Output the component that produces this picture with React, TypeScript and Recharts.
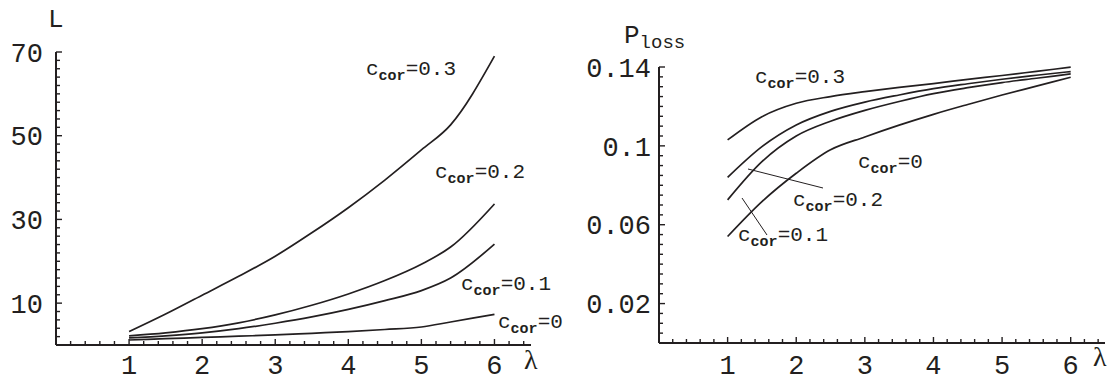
import { LineChart, Line, XAxis, YAxis } from 'recharts';

// λ grid for each panel
const lambdaL = [1, 1.5, 2, 2.5, 3, 3.5, 4, 4.5, 5, 5.4, 6];
const lambdaR = [1, 1.5, 2, 2.5, 3, 3.5, 4, 4.5, 5, 5.5, 6];

// left panel: L vs λ
const L_c03 = [3.2, 7.4, 11.9, 16.4, 21.2, 26.8, 32.8, 39.4, 46.6, 52.6, 69];
const L_c02 = [2.2, 2.9, 3.9, 5.3, 7.2, 9.5, 12.2, 15.4, 19.3, 23.4, 33.7];
const L_c01 = [1.7, 2.2, 2.9, 3.9, 5.2, 6.7, 8.5, 10.6, 13.0, 16.0, 24.1];
const L_c00 = [1.2, 1.5, 1.8, 2.1, 2.4, 2.8, 3.2, 3.7, 4.3, 5.5, 7.3];

// right panel: P_loss vs λ
const P_c03 = [0.103, 0.1148, 0.1216, 0.125, 0.1275, 0.1297, 0.1316, 0.1337, 0.1357, 0.1378, 0.1399];
const P_c02 = [0.084, 0.0996, 0.1106, 0.1175, 0.1222, 0.1258, 0.129, 0.1315, 0.1338, 0.1358, 0.1377];
const P_c01 = [0.0726, 0.092, 0.105, 0.1125, 0.118, 0.1225, 0.1265, 0.1295, 0.1321, 0.1343, 0.1365];
const P_c00 = [0.054, 0.0717, 0.0861, 0.098, 0.1045, 0.1105, 0.116, 0.121, 0.1258, 0.1303, 0.1348];

const xLabels = [1, 2, 3, 4, 5, 6];
const yLabelsL = [10, 30, 50, 70];
const yLabelsR = [0.02, 0.06, 0.1, 0.14];

// minor tick positions
const xMinor = Array.from({ length: 32 }, (_, i) => +((i + 1) * 0.2).toFixed(1));
const yMinorL = Array.from({ length: 35 }, (_, i) => (i + 1) * 2);
const yMinorR = Array.from({ length: 28 }, (_, i) => +((i + 1) * 0.005).toFixed(3));

const leftData = lambdaL.map((lam, i) => ({ lam, c03: L_c03[i], c02: L_c02[i], c01: L_c01[i], c00: L_c00[i] }));
const rightData = lambdaR.map((lam, i) => ({ lam, c03: P_c03[i], c02: P_c02[i], c01: P_c01[i], c00: P_c00[i] }));

const MONO = '"Liberation Mono", "DejaVu Sans Mono", monospace';
const INK = '#231f20';

// panel layout (shared by the charts and the tick overlay)
const LEFT = { x0: 0, w: 560, top: 52, right: 29, axisW: 56, axisH: 37, xMax: 6.5, yMax: 70 };
const RIGHT = { x0: 560, w: 554, top: 67, right: 9, axisW: 99, axisH: 39, xMax: 6.5, yMax: 0.14 };
const H = 382;

function XLabelTick(props: any) {
  const { x, y, payload, dy } = props;
  const v = payload.value;
  if (!xLabels.includes(v)) return <g />;
  return (
    <text x={x} y={y + dy} textAnchor="middle" fontFamily={MONO} fontSize={27} fill={INK}>
      {v}
    </text>
  );
}

function YLabelTick(props: any) {
  const { x, y, payload, labels, gap } = props;
  const v = payload.value;
  if (!labels.includes(v)) return <g />;
  return (
    <text x={x - gap} y={y} dy="0.36em" textAnchor="end" fontFamily={MONO} fontSize={27} fill={INK}>
      {String(v)}
    </text>
  );
}

// inward tick marks for one panel, mapped with the panel's axis domains
function TickMarks({ p, ys, yMaj }: { p: typeof LEFT; ys: number[]; yMaj: number[] }) {
  const left = p.x0 + p.axisW;
  const plotW = p.w - p.axisW - p.right;
  const bottom = H - p.axisH;
  const plotH = bottom - p.top;
  const sx = (v: number) => left + (v / p.xMax) * plotW;
  const sy = (v: number) => bottom - (v / p.yMax) * plotH;
  return (
    <g stroke={INK} strokeWidth={1.4}>
      {xMinor.map((v) => (
        <line key={`x${v}`} x1={sx(v)} x2={sx(v)} y1={bottom} y2={bottom - (xLabels.includes(v) ? 6 : 4)} />
      ))}
      {ys.map((v) => (
        <line key={`y${v}`} x1={left} x2={left + (yMaj.includes(v) ? 6 : 4)} y1={sy(v)} y2={sy(v)} />
      ))}
    </g>
  );
}

function CLabel({ x, y, value }: { x: number; y: number; value: string }) {
  return (
    <text x={x} y={y} fontFamily={MONO} fill={INK}>
      <tspan fontSize={21}>c</tspan>
      <tspan fontSize={15} fontWeight="bold" dy={5}>cor</tspan>
      <tspan fontSize={21} dy={-5}>={value}</tspan>
    </text>
  );
}

const lineProps = {
  type: 'monotone' as const,
  stroke: INK,
  strokeWidth: 1.7,
  dot: false,
  isAnimationActive: false,
};

export default function App() {
  return (
    <div style={{ position: 'absolute', left: 0, top: 0, width: 1114, height: H, background: '#fff' }}>
      <div style={{ position: 'absolute', left: LEFT.x0, top: 0 }}>
        <LineChart width={LEFT.w} height={H} data={leftData} margin={{ top: LEFT.top, right: LEFT.right, bottom: 0, left: 0 }}>
          <XAxis
            type="number"
            dataKey="lam"
            domain={[0, LEFT.xMax]}
            ticks={xMinor}
            interval={0}
            height={LEFT.axisH}
            tickSize={0}
            tickMargin={0}
            tickLine={false}
            axisLine={{ stroke: INK, strokeWidth: 2 }}
            tick={(p: any) => <XLabelTick {...p} dy={29} />}
          />
          <YAxis
            type="number"
            domain={[0, LEFT.yMax]}
            ticks={yMinorL}
            interval={0}
            width={LEFT.axisW}
            tickSize={0}
            tickMargin={0}
            tickLine={false}
            axisLine={{ stroke: INK, strokeWidth: 2 }}
            tick={(p: any) => <YLabelTick {...p} labels={yLabelsL} gap={13} />}
          />
          <Line dataKey="c03" {...lineProps} />
          <Line dataKey="c02" {...lineProps} />
          <Line dataKey="c01" {...lineProps} />
          <Line dataKey="c00" {...lineProps} />
        </LineChart>
      </div>
      <div style={{ position: 'absolute', left: RIGHT.x0, top: 0 }}>
        <LineChart width={RIGHT.w} height={H} data={rightData} margin={{ top: RIGHT.top, right: RIGHT.right, bottom: 0, left: 0 }}>
          <XAxis
            type="number"
            dataKey="lam"
            domain={[0, RIGHT.xMax]}
            ticks={xMinor}
            interval={0}
            height={RIGHT.axisH}
            tickSize={0}
            tickMargin={0}
            tickLine={false}
            axisLine={{ stroke: INK, strokeWidth: 2 }}
            tick={(p: any) => <XLabelTick {...p} dy={31} />}
          />
          <YAxis
            type="number"
            domain={[0, RIGHT.yMax]}
            ticks={yMinorR}
            interval={0}
            width={RIGHT.axisW}
            tickSize={0}
            tickMargin={0}
            tickLine={false}
            axisLine={{ stroke: INK, strokeWidth: 2 }}
            tick={(p: any) => <YLabelTick {...p} labels={yLabelsR} gap={8} />}
          />
          <Line dataKey="c03" {...lineProps} />
          <Line dataKey="c02" {...lineProps} />
          <Line dataKey="c01" {...lineProps} />
          <Line dataKey="c00" {...lineProps} />
        </LineChart>
      </div>
      <svg width={1114} height={H} style={{ position: 'absolute', left: 0, top: 0, pointerEvents: 'none' }}>
        <TickMarks p={LEFT} ys={yMinorL} yMaj={yLabelsL} />
        <TickMarks p={RIGHT} ys={yMinorR} yMaj={yLabelsR} />

        {/* axis titles */}
        <text x={48} y={27} fontFamily={MONO} fontSize={26} fill={INK}>L</text>
        <text x={524} y={369} fontFamily='"Liberation Serif", serif' fontSize={28} fill={INK}>λ</text>
        <text x={624} y={43} fontFamily={MONO} fill={INK}>
          <tspan fontSize={26}>P</tspan>
          <tspan fontSize={19} dy={5}>loss</tspan>
        </text>
        <text x={1093} y={366} fontFamily='"Liberation Serif", serif' fontSize={28} fill={INK}>λ</text>

        {/* left curve labels */}
        <CLabel x={366} y={75} value="0.3" />
        <CLabel x={435} y={178} value="0.2" />
        <CLabel x={461} y={290} value="0.1" />
        <CLabel x={498} y={328} value="0" />

        {/* right curve labels */}
        <CLabel x={755} y={83} value="0.3" />
        <CLabel x={858} y={168} value="0" />
        <CLabel x={793} y={206} value="0.2" />
        <CLabel x={738} y={241} value="0.1" />
        <line x1={748} y1={169} x2={823} y2={188} stroke={INK} strokeWidth={1} />
        <line x1={742} y1={198} x2={767} y2={235} stroke={INK} strokeWidth={1} />
      </svg>
    </div>
  );
}
